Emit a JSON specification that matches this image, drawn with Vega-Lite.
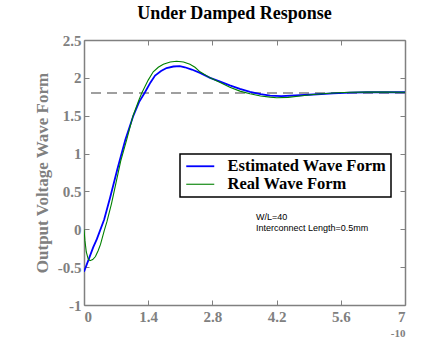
{
  "$schema": "https://vega.github.io/schema/vega-lite/v6.json",
  "width": 321,
  "height": 265,
  "autosize": {"type": "none"},
  "padding": {"left": 84, "top": 40, "right": 35, "bottom": 43},
  "background": "white",
  "title": {
    "text": "Under Damped Response",
    "font": "Liberation Serif",
    "fontWeight": "bold",
    "fontSize": 18,
    "color": "black",
    "anchor": "middle",
    "baseline": "bottom",
    "offset": 14,
    "dx": -10,
    "dy": 22
  },
  "config": {
    "view": {"stroke": null},
    "axis": {
      "grid": false,
      "domainColor": "#808080",
      "domainWidth": 1.5,
      "tickColor": "#808080",
      "tickWidth": 1,
      "tickSize": -5,
      "labelColor": "#808080",
      "labelFont": "Liberation Serif",
      "labelFontWeight": "bold",
      "labelFontSize": 15,
      "titleColor": "#808080",
      "titleFont": "Liberation Serif",
      "titleFontWeight": "bold",
      "titleFontSize": 17
    }
  },
  "resolve": {"axis": {"x": "independent", "y": "independent"}},
  "layer": [
    {
      "data": {"values": [{"level": 1.8}]},
      "mark": {"type": "rule", "color": "#808080", "strokeWidth": 1.5, "strokeDash": [10, 6]},
      "encoding": {
        "y": {"field": "level", "type": "quantitative", "scale": {"domain": [-1, 2.5]}, "axis": null}
      }
    },
    {
      "data": {"values": [
        {"t": 3.75, "v": 0.166, "note": "W/L=40"},
        {"t": 3.75, "v": 0.021, "note": "Interconnect Length=0.5mm"}
      ]},
      "mark": {"type": "text", "align": "left", "baseline": "middle", "font": "Liberation Sans", "fontSize": 9, "color": "black"},
      "encoding": {
        "x": {"field": "t", "type": "quantitative", "scale": {"domain": [0, 7], "nice": false},
              "axis": {"orient": "top", "values": [0, 1.4, 2.8, 4.2, 5.6, 7], "labels": false, "title": null}},
        "y": {"field": "v", "type": "quantitative", "scale": {"domain": [-1, 2.5], "nice": false},
              "axis": {"orient": "right", "values": [-1, -0.5, 0, 0.5, 1, 1.5, 2, 2.5], "labels": false, "title": null}},
        "text": {"field": "note", "type": "nominal"}
      }
    },
    {
      "data": {"values": [
        {"series": "Estimated Wave Form", "t": 0, "v": -0.56},
        {"series": "Estimated Wave Form", "t": 0.1, "v": -0.4},
        {"series": "Estimated Wave Form", "t": 0.2, "v": -0.24},
        {"series": "Estimated Wave Form", "t": 0.28, "v": -0.13},
        {"series": "Estimated Wave Form", "t": 0.44, "v": 0.13},
        {"series": "Estimated Wave Form", "t": 0.57, "v": 0.42},
        {"series": "Estimated Wave Form", "t": 0.73, "v": 0.8},
        {"series": "Estimated Wave Form", "t": 0.9, "v": 1.18},
        {"series": "Estimated Wave Form", "t": 1.07, "v": 1.49},
        {"series": "Estimated Wave Form", "t": 1.2, "v": 1.68},
        {"series": "Estimated Wave Form", "t": 1.33, "v": 1.81},
        {"series": "Estimated Wave Form", "t": 1.45, "v": 1.94},
        {"series": "Estimated Wave Form", "t": 1.55, "v": 2.03},
        {"series": "Estimated Wave Form", "t": 1.68, "v": 2.09},
        {"series": "Estimated Wave Form", "t": 1.8, "v": 2.13},
        {"series": "Estimated Wave Form", "t": 1.95, "v": 2.15},
        {"series": "Estimated Wave Form", "t": 2.09, "v": 2.155},
        {"series": "Estimated Wave Form", "t": 2.2, "v": 2.14},
        {"series": "Estimated Wave Form", "t": 2.35, "v": 2.11},
        {"series": "Estimated Wave Form", "t": 2.53, "v": 2.065},
        {"series": "Estimated Wave Form", "t": 2.75, "v": 2.0},
        {"series": "Estimated Wave Form", "t": 2.97, "v": 1.95},
        {"series": "Estimated Wave Form", "t": 3.18, "v": 1.9},
        {"series": "Estimated Wave Form", "t": 3.4, "v": 1.855},
        {"series": "Estimated Wave Form", "t": 3.62, "v": 1.815},
        {"series": "Estimated Wave Form", "t": 3.85, "v": 1.785},
        {"series": "Estimated Wave Form", "t": 4.06, "v": 1.765},
        {"series": "Estimated Wave Form", "t": 4.3, "v": 1.758},
        {"series": "Estimated Wave Form", "t": 4.71, "v": 1.77},
        {"series": "Estimated Wave Form", "t": 5.0, "v": 1.78},
        {"series": "Estimated Wave Form", "t": 5.43, "v": 1.795},
        {"series": "Estimated Wave Form", "t": 5.8, "v": 1.805},
        {"series": "Estimated Wave Form", "t": 6.17, "v": 1.81},
        {"series": "Estimated Wave Form", "t": 6.6, "v": 1.81},
        {"series": "Estimated Wave Form", "t": 7.0, "v": 1.81},
        {"series": "Real Wave Form", "t": 0, "v": 0.0},
        {"series": "Real Wave Form", "t": 0.02, "v": -0.15},
        {"series": "Real Wave Form", "t": 0.05, "v": -0.3},
        {"series": "Real Wave Form", "t": 0.09, "v": -0.39},
        {"series": "Real Wave Form", "t": 0.13, "v": -0.415},
        {"series": "Real Wave Form", "t": 0.19, "v": -0.4},
        {"series": "Real Wave Form", "t": 0.25, "v": -0.36},
        {"series": "Real Wave Form", "t": 0.31, "v": -0.28},
        {"series": "Real Wave Form", "t": 0.36, "v": -0.2},
        {"series": "Real Wave Form", "t": 0.44, "v": -0.02},
        {"series": "Real Wave Form", "t": 0.5, "v": 0.1},
        {"series": "Real Wave Form", "t": 0.6, "v": 0.34},
        {"series": "Real Wave Form", "t": 0.7, "v": 0.62},
        {"series": "Real Wave Form", "t": 0.8, "v": 0.9},
        {"series": "Real Wave Form", "t": 0.93, "v": 1.18},
        {"series": "Real Wave Form", "t": 1.07, "v": 1.5},
        {"series": "Real Wave Form", "t": 1.2, "v": 1.71},
        {"series": "Real Wave Form", "t": 1.26, "v": 1.8},
        {"series": "Real Wave Form", "t": 1.4, "v": 1.97},
        {"series": "Real Wave Form", "t": 1.51, "v": 2.08},
        {"series": "Real Wave Form", "t": 1.62, "v": 2.14},
        {"series": "Real Wave Form", "t": 1.73, "v": 2.18},
        {"series": "Real Wave Form", "t": 1.88, "v": 2.21},
        {"series": "Real Wave Form", "t": 2.02, "v": 2.22},
        {"series": "Real Wave Form", "t": 2.17, "v": 2.21},
        {"series": "Real Wave Form", "t": 2.31, "v": 2.18},
        {"series": "Real Wave Form", "t": 2.42, "v": 2.14},
        {"series": "Real Wave Form", "t": 2.53, "v": 2.08},
        {"series": "Real Wave Form", "t": 2.75, "v": 2.0},
        {"series": "Real Wave Form", "t": 2.97, "v": 1.94},
        {"series": "Real Wave Form", "t": 3.18, "v": 1.875},
        {"series": "Real Wave Form", "t": 3.4, "v": 1.825},
        {"series": "Real Wave Form", "t": 3.62, "v": 1.79},
        {"series": "Real Wave Form", "t": 3.85, "v": 1.76},
        {"series": "Real Wave Form", "t": 4.06, "v": 1.745},
        {"series": "Real Wave Form", "t": 4.2, "v": 1.737},
        {"series": "Real Wave Form", "t": 4.45, "v": 1.742},
        {"series": "Real Wave Form", "t": 4.71, "v": 1.76},
        {"series": "Real Wave Form", "t": 5.0, "v": 1.78},
        {"series": "Real Wave Form", "t": 5.43, "v": 1.8},
        {"series": "Real Wave Form", "t": 5.8, "v": 1.81},
        {"series": "Real Wave Form", "t": 6.17, "v": 1.812},
        {"series": "Real Wave Form", "t": 6.6, "v": 1.812},
        {"series": "Real Wave Form", "t": 7.0, "v": 1.81}
      ]},
      "mark": {"type": "line", "clip": true},
      "encoding": {
        "x": {
          "field": "t", "type": "quantitative",
          "scale": {"domain": [0, 7], "nice": false},
          "axis": {
            "values": [0, 1.4, 2.8, 4.2, 5.6, 7],
            "labelExpr": "datum.value",
            "labelPadding": 9,
            "title": "-10",
            "titleFontSize": 11,
            "titleAnchor": "end",
            "titleAlign": "right",
            "titlePadding": 3
          }
        },
        "y": {
          "field": "v", "type": "quantitative",
          "scale": {"domain": [-1, 2.5], "nice": false},
          "axis": {
            "values": [-1, -0.5, 0, 0.5, 1, 1.5, 2, 2.5],
            "labelExpr": "datum.value",
            "labelPadding": 8,
            "title": "Output Voltage Wave Form",
            "titlePadding": 6
          }
        },
        "color": {
          "field": "series", "type": "nominal",
          "scale": {"domain": ["Estimated Wave Form", "Real Wave Form"], "range": ["#0000ff", "#008000"]},
          "legend": {
            "title": null,
            "orient": "none",
            "legendX": 96,
            "legendY": 114,
            "direction": "vertical",
            "fillColor": "white",
            "strokeColor": "black",
            "padding": 4,
            "symbolType": "M-2,0H2",
            "symbolSize": 196,
            "symbolOffset": 8,
            "symbolStrokeWidth": 1.5,
            "labelFont": "Liberation Serif",
            "labelFontWeight": "bold",
            "labelFontSize": 16.5,
            "labelColor": "black",
            "labelOffset": 19,
            "rowPadding": 1,
            "encode": {"legend": {"update": {"strokeWidth": {"value": 1.5}}}}
          }
        },
        "strokeWidth": {
          "field": "series", "type": "nominal",
          "scale": {"domain": ["Estimated Wave Form", "Real Wave Form"], "range": [1.8, 1.1]},
          "legend": null
        }
      }
    }
  ]
}
